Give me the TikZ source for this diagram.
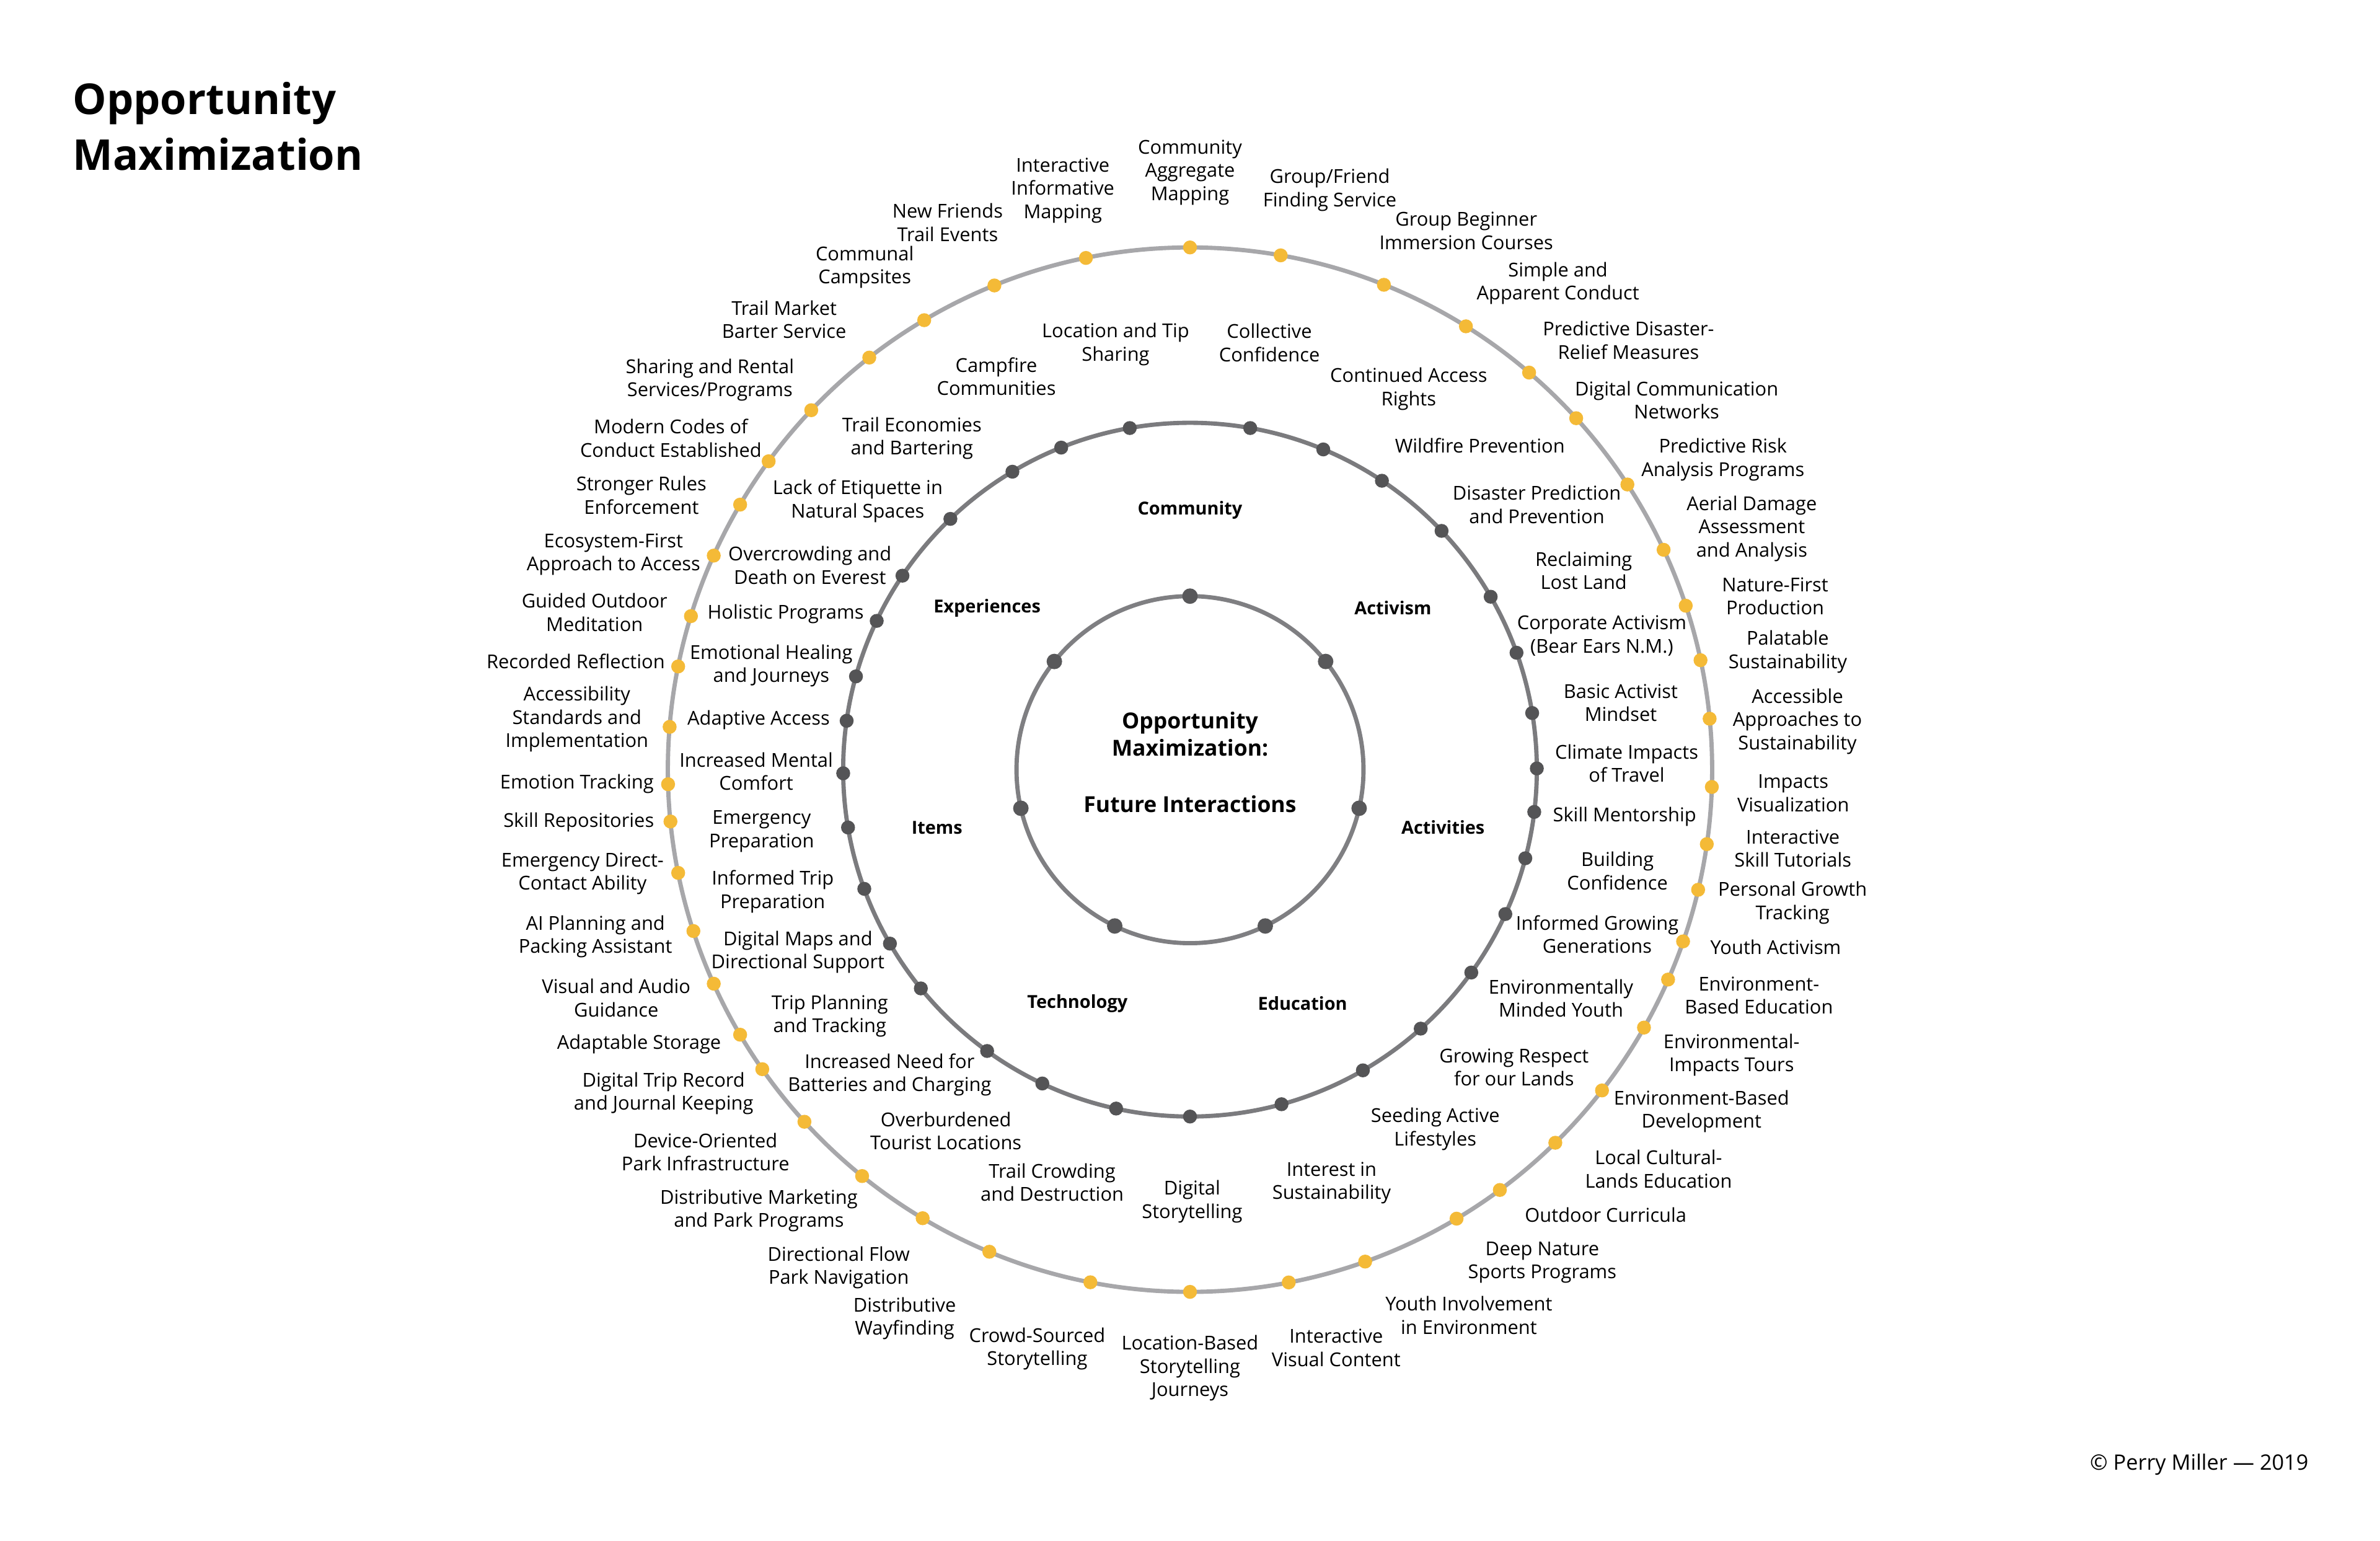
\documentclass[tikz,border=0pt]{standalone}
\usepackage{fontspec}
\setmainfont{Open Sans}
\usepackage{xcolor}
\usepackage{tikz}
\usetikzlibrary{calc}
\definecolor{ringout}{HTML}{A7A7AA}
\definecolor{dotout}{HTML}{F4BA37}
\definecolor{ringmid}{HTML}{7B7B7E}
\definecolor{dotmid}{HTML}{545456}
\definecolor{ringin}{HTML}{7F7F82}
\definecolor{dotin}{HTML}{58585A}
\tikzset{
  opplbl/.style   = {align=center, inner sep=0pt, font=\fontsize{12.6}{15.3}\selectfont},
  oppcat/.style   = {align=center, inner sep=0pt, font=\fontsize{11.8}{14}\selectfont\bfseries},
  oppcore/.style  = {align=center, inner sep=0pt, font=\fontsize{14.5}{17.9}\selectfont\bfseries},
  opphead/.style  = {align=left, inner sep=0pt, font=\fontsize{28}{36.8}\selectfont\bfseries},
  oppnote/.style  = {inner sep=0pt, font=\fontsize{14}{17}\selectfont},
  oppring/.style  = {line width=2.8pt},
}

\begin{document}
\begin{tikzpicture}[x=1pt,y=1pt]
  \useasboundingbox (-784,-508) rectangle (784,507);
  \coordinate (ctr) at (0,0);

  \node[opphead, anchor=west] (head) at (-736.2,423.8) {Opportunity\\Maximization};
  \node[oppnote, anchor=base east] (note) at (737,-461.4) {© Perry Miller — 2019};

  % three rings, each with its own dots
  \draw[oppring, draw=ringout] (ctr) circle (344);
  \draw[oppring, draw=ringmid] (ctr) circle (228.5);
  \draw[oppring, draw=ringin]  (ctr) circle (114.3);
  \foreach \a in {90,80,68.2,58.1,49.5,42.3,33.1,24.9,18.3,12.1,5.6,-1.9,-8.2,-13.3,-19.2,-23.7,
                  -29.6,-37.9,-45.6,-53.6,-59.3,-70.4,-79.1,-90,-101,-112.6,-120.8,-128.9,-137.6,
                  -145,-149.5,-155.8,-162,-168.6,-174.3,-178.4,175.3,168.6,162.9,155.8,149.5,
                  143.8,136.5,127.9,120.6,112,101.5}
    \fill[dotout] (\a:344) circle (4.6);
  \foreach \a in {100,80,67.4,56.4,43.5,29.9,19.7,9.4,0.2,-7,-14.8,-24.6,-35.8,-48.3,-60.1,-74.7,
                  -90,-102.3,-115.2,-125.8,-140.9,-149.9,-159.9,-170.4,-179.4,171.9,164.4,154.6,
                  146,133.7,120.8,111.8}
    \fill[dotmid] (\a:228.5) circle (4.6);
  \foreach \k in {0,...,6}
    \fill[dotin] ({90+\k*360/7}:114.3) circle (5.1);

  \node[oppcore] (core)    at (0,23.4)  {Opportunity\\Maximization:};
  \node[oppcore] (coresub) at (0,-22.7) {Future Interactions};

  \node[oppcat] (community)   at (90:171)     {Community};
  \node[oppcat] (activism)    at (38.57:171)  {Activism};
  \node[oppcat] (activities)  at (-12.86:171) {Activities};
  \node[oppcat] (education)   at (-64.29:171) {Education};
  \node[oppcat] (technology)  at (-115.71:171){Technology};
  \node[oppcat] (items)       at (-167.14:171){Items};
  \node[oppcat] (experiences) at (141.43:171) {Experiences};

  \node[opplbl] (tipshare)  at (-49,280.2)    {Location and Tip\\Sharing};
  \node[opplbl] (collconf)  at (52.3,281.3)   {Collective\\Confidence};
  \node[opplbl] (access)    at (144.1,250.7)  {Continued Access\\Rights};
  \node[opplbl] (wildfire)  at (191,213.3)    {Wildfire Prevention};
  \node[opplbl] (disprev)   at (228.5,174.7)  {Disaster Prediction\\and Prevention};
  \node[opplbl] (reclaim)   at (259.4,131.1)  {Reclaiming\\Lost Land};
  \node[opplbl] (corpact)   at (271.3,88.3)   {Corporate Activism\\(Bear Ears N.M.)};
  \node[opplbl] (mindset)   at (283.8,44.1)   {Basic Activist\\Mindset};
  \node[opplbl] (climate)   at (287.7,4.2)    {Climate Impacts\\of Travel};
  \node[opplbl] (mentor)    at (286.3,-31)    {Skill Mentorship};
  \node[opplbl] (buildconf) at (281.6,-66.7)  {Building\\Confidence};
  \node[opplbl] (growgen)   at (268.3,-108.6) {Informed Growing\\Generations};
  \node[opplbl] (envyouth)  at (244.4,-150.6) {Environmentally\\Minded Youth};
  \node[opplbl] (respect)   at (213.5,-196.1) {Growing Respect\\for our Lands};
  \node[opplbl] (seeding)   at (161.6,-236.8) {Seeding Active\\Lifestyles};
  \node[opplbl] (sustint)   at (93.3,-272.2)  {Interest in\\Sustainability};
  \node[opplbl] (digstory)  at (1.4,-284.6)   {Digital\\Storytelling};
  \node[opplbl] (crowding)  at (-90.8,-271.8) {Trail Crowding\\and Destruction};
  \node[opplbl] (tourist)   at (-160.8,-237.9){Overburdened\\Tourist Locations};
  \node[opplbl] (battery)   at (-197.9,-201)  {Increased Need for\\Batteries and Charging};
  \node[opplbl] (tripplan)  at (-237.3,-162.3){Trip Planning\\and Tracking};
  \node[opplbl] (digmaps)   at (-258.3,-120.1){Digital Maps and\\Directional Support};
  \node[opplbl] (tripprep)  at (-274.9,-80.4) {Informed Trip\\Preparation};
  \node[opplbl] (emprep)    at (-282.2,-40.6) {Emergency\\Preparation};
  \node[opplbl] (mental)    at (-285.8,-1.2)  {Increased Mental\\Comfort};
  \node[opplbl] (adaptive)  at (-284.2,32.8)  {Adaptive Access};
  \node[opplbl] (healing)   at (-275.9,68.5)  {Emotional Healing\\and Journeys};
  \node[opplbl] (holistic)  at (-266.4,102.5) {Holistic Programs};
  \node[opplbl] (everest)   at (-250.4,134.7) {Overcrowding and\\Death on Everest};
  \node[opplbl] (etiquette) at (-218.9,176.9) {Lack of Etiquette in\\Natural Spaces};
  \node[opplbl] (barter)    at (-183.2,218.3) {Trail Economies\\and Bartering};
  \node[opplbl] (campfire)  at (-127.6,258.9) {Campfire\\Communities};

  \node[opplbl] (aggmap)    at (0,393.5)      {Community\\Aggregate\\Mapping};
  \node[opplbl] (friendfind)at (92.1,381.8)   {Group/Friend\\Finding Service};
  \node[opplbl] (immersion) at (182,355)      {Group Beginner\\Immersion Courses};
  \node[opplbl] (conduct)   at (242.4,320.5)  {Simple and\\Apparent Conduct};
  \node[opplbl] (relief)    at (288.9,282.8)  {Predictive Disaster-\\Relief Measures};
  \node[opplbl] (commnet)   at (320.6,243.4)  {Digital Communication\\Networks};
  \node[opplbl] (riskprog)  at (351.1,204.2)  {Predictive Risk\\Analysis Programs};
  \node[opplbl] (aerial)    at (370.1,158.7)  {Aerial Damage\\Assessment\\and Analysis};
  \node[opplbl] (natfirst)  at (385.5,114.3)  {Nature-First\\Production};
  \node[opplbl] (palatable) at (393.8,77.7)   {Palatable\\Sustainability};
  \node[opplbl] (approach)  at (400.2,31.9)   {Accessible\\Approaches to\\Sustainability};
  \node[opplbl] (impactvis) at (397.4,-15.5)  {Impacts\\Visualization};
  \node[opplbl] (skilltut)  at (397.2,-51.9)  {Interactive\\Skill Tutorials};
  \node[opplbl] (growth)    at (397,-87.8)    {Personal Growth\\Tracking};
  \node[opplbl] (youthact)  at (385.9,-117)   {Youth Activism};
  \node[opplbl] (enveduc)   at (374.8,-148.8) {Environment-\\Based Education};
  \node[opplbl] (envtours)  at (356.8,-188)   {Environmental-\\Impacts Tours};
  \node[opplbl] (envdev)    at (337,-225.1)   {Environment-Based\\Development};
  \node[opplbl] (cultural)  at (308.7,-263.1) {Local Cultural-\\Lands Education};
  \node[opplbl] (curricula) at (273.9,-293.2) {Outdoor Curricula};
  \node[opplbl] (sports)    at (232.1,-324.7) {Deep Nature\\Sports Programs};
  \node[opplbl] (involve)   at (183.7,-359.5) {Youth Involvement\\in Environment};
  \node[opplbl] (viscont)   at (96.3,-380.8)  {Interactive\\Visual Content};
  \node[opplbl] (locstory)  at (0,-394.3)     {Location-Based\\Storytelling\\Journeys};
  \node[opplbl] (crowdsrc)  at (-100.7,-381.5){Crowd-Sourced\\Storytelling};
  \node[opplbl] (wayfind)   at (-188,-361.5)  {Distributive\\Wayfinding};
  \node[opplbl] (flownav)   at (-231.4,-328)  {Directional Flow\\Park Navigation};
  \node[opplbl] (marketing) at (-284,-290.4)  {Distributive Marketing\\and Park Programs};
  \node[opplbl] (parkinfra) at (-319.2,-251.8){Device-Oriented\\Park Infrastructure};
  \node[opplbl] (journal)   at (-346.8,-213.3){Digital Trip Record\\and Journal Keeping};
  \node[opplbl] (storage)   at (-363,-181)    {Adaptable Storage};
  \node[opplbl] (guidance)  at (-378,-150.4)  {Visual and Audio\\Guidance};
  \node[opplbl] (packing)   at (-391.7,-109.9){AI Planning and\\Packing Assistant};
  \node[opplbl] (contact)   at (-400.2,-68.6) {Emergency Direct-\\Contact Ability};
  \node[opplbl] (skillrep)  at (-402.7,-34.6) {Skill Repositories};
  \node[opplbl] (emotion)   at (-403.9,-9.5)  {Emotion Tracking};
  \node[opplbl] (standards) at (-403.9,33.2)  {Accessibility\\Standards and\\Implementation};
  \node[opplbl] (reflect)   at (-404.7,71.5)  {Recorded Reflection};
  \node[opplbl] (meditate)  at (-392.3,103.6) {Guided Outdoor\\Meditation};
  \node[opplbl] (ecofirst)  at (-379.8,141.7) {Ecosystem-First\\Approach to Access};
  \node[opplbl] (rules)     at (-361.4,180.7) {Stronger Rules\\Enforcement};
  \node[opplbl] (codes)     at (-342,218.3)   {Modern Codes of\\Conduct Established};
  \node[opplbl] (rental)    at (-316.3,256.7) {Sharing and Rental\\Services/Programs};
  \node[opplbl] (market)    at (-267.4,296.5) {Trail Market\\Barter Service};
  \node[opplbl] (campsite)  at (-214.3,331.1) {Communal\\Campsites};
  \node[opplbl] (events)    at (-159.7,360.5) {New Friends\\Trail Events};
  \node[opplbl] (infomap)   at (-83.8,381.6)  {Interactive\\Informative\\Mapping};
\end{tikzpicture}
\end{document}
